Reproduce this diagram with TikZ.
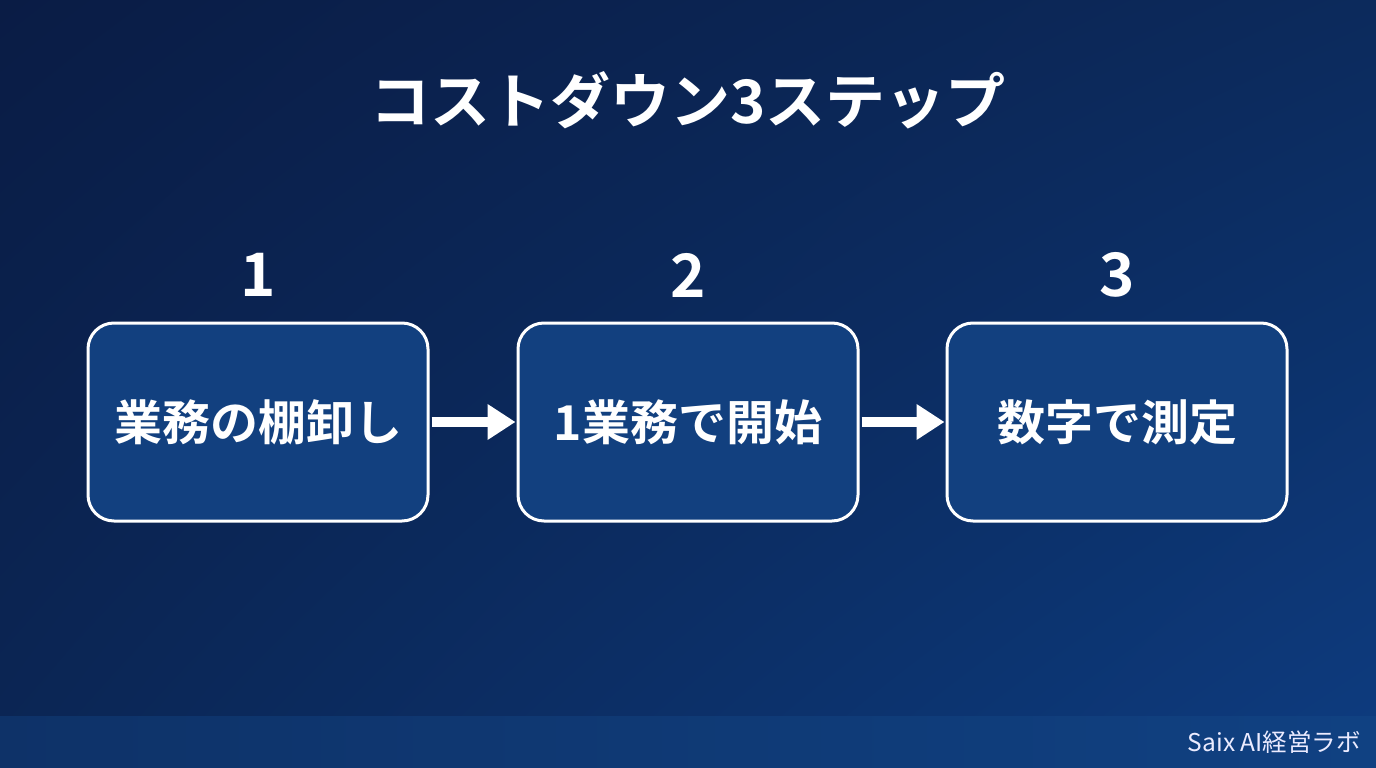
\documentclass[tikz,border=0pt]{standalone}
\usepackage{fontspec}
\setmainfont{Noto Sans CJK JP}
\newfontfamily\cjkbold{Noto Sans CJK JP Bold}
\usetikzlibrary{arrows.meta,shadings}
\definecolor{bgtl}{HTML}{0A1C45}
\definecolor{bgtr}{HTML}{0C2A5C}
\definecolor{bgbl}{HTML}{0B2655}
\definecolor{bgbr}{HTML}{0D3C80}
\definecolor{boxfill}{HTML}{12407F}
\definecolor{footl}{HTML}{0E3268}
\definecolor{footr}{HTML}{104182}
\tikzset{
  stepbox/.style={draw=white, line width=3pt, fill=boxfill, rounded corners=26pt,
    minimum width=340pt, minimum height=198pt, inner sep=0pt,
    text=white, font=\cjkbold\fontsize{48pt}{52pt}\selectfont},
  stepnum/.style={text=white, font=\cjkbold\fontsize{60pt}{64pt}\selectfont, inner sep=0pt},
  flowarrow/.style={draw=white, line width=10pt, -{Triangle[length=28pt,width=34pt]}, shorten <=2pt, shorten >=1pt},
}
\begin{document}
\begin{tikzpicture}[x=1pt,y=-1pt]
\useasboundingbox (0,0) rectangle (1376,768);
\shade[upper left=bgtl, upper right=bgtr, lower left=bgbl, lower right=bgbr] (0,0) rectangle (1376,768);
\shade[left color=footl, right color=footr] (0,716) rectangle (1376,768);
\node[text=white, font=\cjkbold\fontsize{60pt}{64pt}\selectfont, inner sep=0pt] (title) at (688,100) {コストダウン3ステップ};
\node[stepbox] (b1) at (258,422) {業務の棚卸し};
\node[stepbox] (b2) at (688,422) {1業務で開始};
\node[stepbox] (b3) at (1117,422) {数字で測定};
\node[stepnum] (n1) at (258,275) {1};
\node[stepnum] (n2) at (688,275) {2};
\node[stepnum] (n3) at (1117,275) {3};
\draw[flowarrow] (b1.east) -- (b2.west);
\draw[flowarrow] (b2.east) -- (b3.west);
\node[anchor=east, text=white!92!blue, font=\fontsize{24.5pt}{26pt}\selectfont, inner sep=0pt] (foot) at (1361,742) {Saix AI経営ラボ};
\end{tikzpicture}
\end{document}
